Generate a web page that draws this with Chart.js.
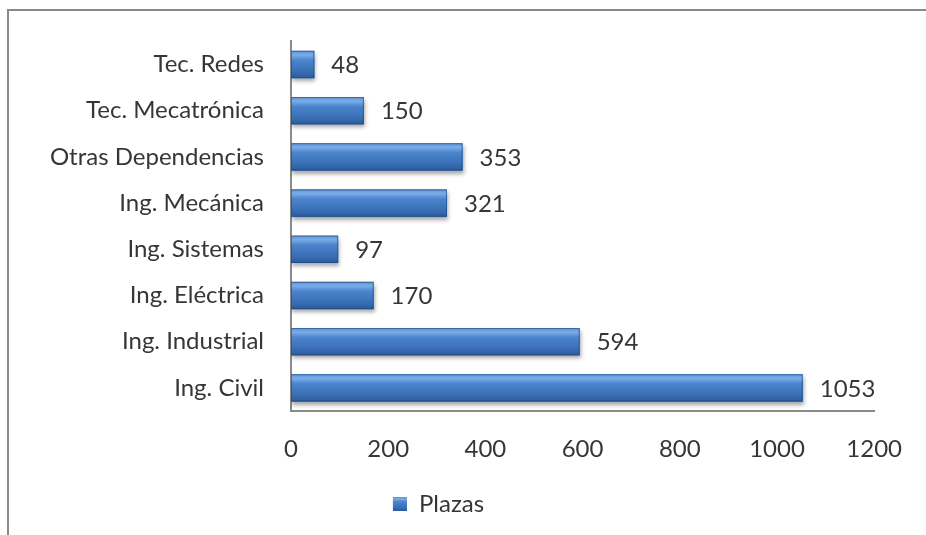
<!DOCTYPE html>
<html>
<head>
<meta charset="utf-8">
<script src="https://cdn.jsdelivr.net/npm/chart.js@4.4.1/dist/chart.umd.min.js"></script>
<style>
  html, body { margin: 0; padding: 0; background: #fff; }
  #wrap { position: relative; width: 926px; height: 535px; overflow: hidden; }
  #frame { position: absolute; left: 7px; top: 9px; width: 960px; height: 600px;
           border-left: 2px solid #8a8a8a; border-top: 2px solid #8a8a8a; }
  canvas { position: absolute; left: 0; top: 0; }
</style>
</head>
<body>
<div id="wrap">
  <div id="frame"></div>
  <canvas id="chart" width="926" height="535"></canvas>
</div>
<script>
const categories = ["Tec. Redes", "Tec. Mecatrónica", "Otras Dependencias", "Ing. Mecánica",
                    "Ing. Sistemas", "Ing. Eléctrica", "Ing. Industrial", "Ing. Civil"];
const plazas = [48, 150, 353, 321, 97, 170, 594, 1053];
const seriesName = "Plazas";

const FONT = "Lato, 'Open Sans', sans-serif";
const FSIZE = 24;
const TEXT = "#363636";

// soft shadow under the bars
const shadowPlugin = {
  id: "barShadow",
  beforeDatasetDraw(chart) {
    const c = chart.ctx;
    c.save();
    c.shadowColor = "rgba(0,0,0,0.35)";
    c.shadowBlur = 4;
    c.shadowOffsetX = 1;
    c.shadowOffsetY = 3;
  },
  afterDatasetDraw(chart) {
    chart.ctx.restore();
  }
};

function glossGradient(c, top, bot) {
  const g = c.createLinearGradient(0, top, 0, bot);
  g.addColorStop(0, "#5f95d6");
  g.addColorStop(0.15, "#7aace8");
  g.addColorStop(0.35, "#4a84cc");
  g.addColorStop(0.75, "#3a6fb6");
  g.addColorStop(1, "#2b5a98");
  return g;
}

// glossy gradient over each bar + value labels
const glossPlugin = {
  id: "gloss",
  afterDatasetsDraw(chart) {
    const c = chart.ctx;
    const meta = chart.getDatasetMeta(0);
    meta.data.forEach((bar, i) => {
      const top = bar.y - bar.height / 2;
      const bot = bar.y + bar.height / 2;
      c.save();
      c.fillStyle = glossGradient(c, top, bot);
      c.fillRect(bar.base, top, bar.x - bar.base, bot - top);
      c.strokeStyle = "rgba(30,70,130,0.6)";
      c.lineWidth = 1;
      c.strokeRect(bar.base + 0.5, top + 0.5, bar.x - bar.base - 1, bot - top - 1);
      c.restore();

      c.save();
      c.font = FSIZE + "px " + FONT;
      c.fillStyle = TEXT;
      c.textAlign = "left";
      c.textBaseline = "middle";
      c.fillText(plazas[i], bar.x + 17, bar.y + 1);
      c.restore();
    });
  },
  afterDraw(chart) {
    // glossy legend box
    const leg = chart.legend;
    const h = leg.legendHitBoxes && leg.legendHitBoxes[0];
    if (!h) return;
    const c = chart.ctx;
    const bw = 14;
    const y0 = h.top + (h.height - bw) / 2;
    c.save();
    c.fillStyle = glossGradient(c, y0, y0 + bw);
    c.fillRect(h.left, y0, bw, bw);
    c.restore();
  }
};

new Chart(document.getElementById("chart"), {
  type: "bar",
  data: {
    labels: categories,
    datasets: [{
      label: seriesName,
      data: plazas,
      backgroundColor: "#3d76c0",
      borderWidth: 0,
      barPercentage: 0.59,
      categoryPercentage: 1.0
    }]
  },
  options: {
    indexAxis: "y",
    responsive: false,
    animation: false,
    layout: { padding: { left: 0, right: 49, top: 41, bottom: 9 } },
    scales: {
      x: {
        min: 0, max: 1200,
        ticks: {
          stepSize: 200, color: TEXT, font: { family: FONT, size: FSIZE }, padding: 24,
          callback: v => String(v)
        },
        grid: { display: false, drawTicks: false },
        border: { display: true, color: "#8a8a8a", width: 2 },
        afterFit(scale) { scale.height = 71; }
      },
      y: {
        ticks: { color: TEXT, font: { family: FONT, size: FSIZE }, padding: 27 },
        grid: { display: false, drawTicks: false },
        border: { display: true, color: "#8a8a8a", width: 2 },
        afterFit(scale) { scale.width = 291; }
      }
    },
    plugins: {
      legend: {
        position: "bottom",
        labels: {
          color: TEXT,
          font: { family: FONT, size: FSIZE },
          boxWidth: 14, boxHeight: 14,
          padding: 10
        }
      },
      tooltip: { enabled: false }
    }
  },
  plugins: [shadowPlugin, glossPlugin]
});
</script>
</body>
</html>
